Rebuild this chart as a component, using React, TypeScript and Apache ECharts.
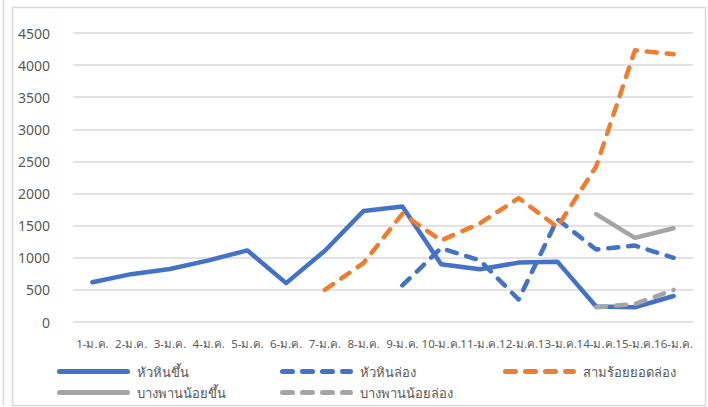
import React, { useEffect, useRef } from "react";
import * as echarts from "echarts";

const categories = [
  "1-ม.ค.", "2-ม.ค.", "3-ม.ค.", "4-ม.ค.", "5-ม.ค.", "6-ม.ค.", "7-ม.ค.", "8-ม.ค.",
  "9-ม.ค.", "10-ม.ค.", "11-ม.ค.", "12-ม.ค.", "13-ม.ค.", "14-ม.ค.", "15-ม.ค.", "16-ม.ค.",
];

const huaHinUp = [620, 745, 825, 960, 1115, 605, 1110, 1730, 1800, 900, 820, 925, 940, 240, 230, 405];
const huaHinDown = [null, null, null, null, null, null, null, null, 570, 1150, 960, 350, 1600, 1130, 1190, 1000];
const samRoiYotDown = [null, null, null, null, null, null, 500, 920, 1685, 1270, 1535, 1930, 1480, 2420, 4230, 4170];
const bangPhanNoiUp = [null, null, null, null, null, null, null, null, null, null, null, null, null, 1680, 1310, 1460];
const bangPhanNoiDown = [null, null, null, null, null, null, null, null, null, null, null, null, null, 230, 280, 500];

const seriesNames = ["หัวหินขึ้น", "หัวหินล่อง", "สามร้อยยอดล่อง", "บางพานน้อยขึ้น", "บางพานน้อยล่อง"];
const yTicks = { min: 0, max: 4500, interval: 500 };

const BLUE = "#4472C4";
const ORANGE = "#ED7D31";
const GRAY = "#A5A5A5";
const FONT = "Tahoma, 'Noto Sans', 'DejaVu Sans', sans-serif";
const DASH = [10, 10];

export default function App() {
  const ref = useRef<HTMLDivElement>(null);
  useEffect(() => {
    if (!ref.current) return;
    const chart = echarts.init(ref.current, null, { renderer: "svg" });
    const mk = (name: string, data: (number | null)[], color: string, dashed: boolean) => ({
      name,
      type: "line",
      data,
      symbol: "none",
      showSymbol: false,
      connectNulls: false,
      color,
      lineStyle: {
        color,
        width: 4.5,
        type: dashed ? DASH : "solid",
        cap: "round",
        join: "round",
      },
      emphasis: { disabled: true },
    });
    const legendPos = [
      { left: 57, top: 365 },
      { left: 280, top: 365 },
      { left: 503, top: 365 },
      { left: 57, top: 386 },
      { left: 280, top: 386 },
    ];
    chart.setOption({
      animation: false,
      backgroundColor: "#ffffff",
      textStyle: { fontFamily: FONT },
      grid: { left: 73, right: 15, top: 33, bottom: 85, containLabel: false },
      legend: seriesNames.map((n, i) => ({
        data: [n],
        left: legendPos[i].left,
        top: legendPos[i].top,
        itemWidth: 68,
        itemHeight: 14,
        selectedMode: false,
        padding: 0,
        itemStyle: { opacity: 0 },
        lineStyle: { width: 5, cap: "round" },
        textStyle: { fontSize: 13, color: "#595959", fontFamily: FONT, padding: [0, 0, 0, 4] },
      })),
      xAxis: {
        type: "category",
        data: categories,
        boundaryGap: true,
        axisLine: { show: false },
        axisTick: { show: false },
        axisLabel: { interval: 0, fontSize: 11.5, color: "#595959", margin: 15, fontFamily: FONT },
        splitLine: { show: false },
      },
      yAxis: {
        type: "value",
        min: yTicks.min,
        max: yTicks.max,
        interval: yTicks.interval,
        axisLine: { show: false },
        axisTick: { show: false },
        axisLabel: {
          fontSize: 14,
          color: "#595959",
          margin: 23,
          fontFamily: FONT,
          formatter: (v: number) => String(v),
        },
        splitLine: { lineStyle: { color: "#D9D9D9", width: 1.5 } },
      },
      graphic: [
        {
          type: "rect",
          shape: { x: 12.5, y: 7.5, width: 693, height: 398 },
          style: { fill: "none", stroke: "#D9D9D9", lineWidth: 1.5 },
          silent: true,
        },
        {
          type: "line",
          shape: { x1: 3.5, y1: 0, x2: 3.5, y2: 405 },
          style: { stroke: "#D9D9D9", lineWidth: 1.5 },
          silent: true,
        },
      ],
      series: [
        mk(seriesNames[0], huaHinUp, BLUE, false),
        mk(seriesNames[1], huaHinDown, BLUE, true),
        mk(seriesNames[2], samRoiYotDown, ORANGE, true),
        mk(seriesNames[3], bangPhanNoiUp, GRAY, false),
        mk(seriesNames[4], bangPhanNoiDown, GRAY, true),
      ],
    });
    return () => chart.dispose();
  }, []);
  return (
    <div
      ref={ref}
      style={{ position: "fixed", left: 0, top: 0, width: 708, height: 407, background: "#fff" }}
    />
  );
}
